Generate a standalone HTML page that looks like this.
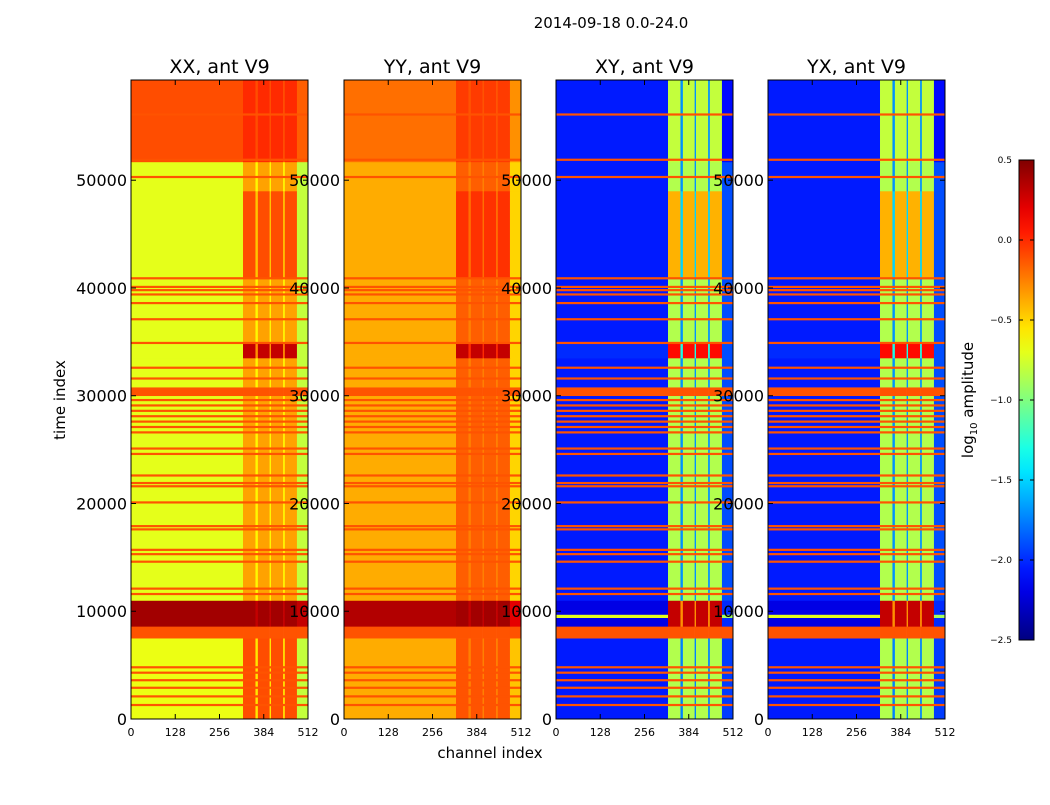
<!DOCTYPE html>
<html><head><meta charset="utf-8"><style>
body{margin:0;background:#fff;font-family:"Liberation Sans",sans-serif}
svg text{font-family:"DejaVu Sans","Liberation Sans",sans-serif}
</style></head><body>
<svg id="chart" width="1050" height="800" xmlns="http://www.w3.org/2000/svg">
<text x="611" y="28" font-size="15" text-anchor="middle">2014-09-18 0.0-24.0</text>
<text x="490" y="758" font-size="15" text-anchor="middle">channel index</text>
<text transform="translate(65,400) rotate(-90)" font-size="15" text-anchor="middle">time index</text>
<defs><linearGradient id="jetg" x1="0" y1="1" x2="0" y2="0"></linearGradient></defs>
<g id="panels"></g>
<g id="cbar"></g>
</svg>
<script>
// ---- data ----
const panelNames = ["XX, ant V9","YY, ant V9","XY, ant V9","YX, ant V9"];
const channelSegStarts = [0,324,360,367,401,405,440,445,480];
const channelSegEnds   = [324,360,367,401,405,440,445,480,512];
const channelSegKinds  = ["L","B","G","B","G","B","G","B","R"];
const timeBandStarts = [0,7500,8600,9400,9700,11000,30000,30800,33500,35000,41000,49000,51700];
const timeBandEnds   = [7500,8600,9400,9700,11000,30000,30800,33500,35000,41000,49000,51700,59300];
const timeBandKinds  = ["low","flag","hi","hiline","hi","norm","flag","norm","hot","norm","warm","norm","top"];
const flagTimes = [1200,2000,2800,3500,4200,4700,11500,12000,14500,15200,15600,17500,17800,20000,21500,21800,22500,24500,25000,26500,27000,27500,28000,28500,29000,29500,31500,32500,34800,37000,38500,39300,39700,40000,40800,50200,51800,56000];
const flagValue = -0.12;
// log10 amplitude per panel: [band] -> {L,B,G,R}
const levelsXX = {low:{L:-0.68,B:-0.1,G:-0.55,R:-0.8},hi:{L:0.4,B:0.4,G:0.3,R:0.3},hiline:{L:0.4,B:0.4,G:0.3,R:0.3},norm:{L:-0.7,B:-0.35,G:-0.6,R:-0.8},hot:{L:-0.7,B:0.3,G:-0.3,R:-0.8},warm:{L:-0.7,B:-0.1,G:-0.45,R:-0.8},top:{L:-0.1,B:0.0,G:-0.1,R:-0.15}};
const levelsYY = {low:{L:-0.38,B:-0.12,G:-0.25,R:-0.45},hi:{L:0.35,B:0.4,G:0.3,R:0.2},hiline:{L:0.35,B:0.4,G:0.3,R:0.2},norm:{L:-0.38,B:-0.15,G:-0.25,R:-0.5},hot:{L:-0.38,B:0.3,G:0.0,R:-0.5},warm:{L:-0.38,B:-0.02,G:-0.2,R:-0.5},top:{L:-0.2,B:-0.05,G:-0.12,R:-0.3}};
const levelsXY = {low:{L:-2.05,B:-0.85,G:-1.75,R:-1.95},hi:{L:-2.2,B:0.3,G:-0.3,R:-2.0},hiline:{L:-0.7,B:0.3,G:-0.3,R:-0.9},norm:{L:-2.05,B:-0.85,G:-1.7,R:-1.9},hot:{L:-2.0,B:0.1,G:-1.3,R:-1.9},warm:{L:-2.05,B:-0.4,G:-1.5,R:-1.9},top:{L:-2.05,B:-0.8,G:-1.7,R:-2.1}};
const panelLevels = [levelsXX,levelsYY,levelsXY,levelsXY];
const xTickLabels = [0,128,256,384,512];
const yTickLabels = [0,10000,20000,30000,40000,50000];
const cbarTicks = [0.5,0.0,-0.5,-1.0,-1.5,-2.0,-2.5];
// ---- layout ----
const panelLeft=[131,344,556,768], PW=177, PT=80, PB=719;
const TMAX=59300, VMIN=-2.5, VMAX=0.5;
const NS="http://www.w3.org/2000/svg";
function jet(v){let x=(v-VMIN)/(VMAX-VMIN);x=Math.max(0,Math.min(1,x));
 const c=t=>Math.round(255*Math.max(0,Math.min(1,1.5-Math.abs(t))));
 return `rgb(${c(4*x-3)},${c(4*x-2)},${c(4*x-1)})`;}
function el(tag,attrs,parent){const e=document.createElementNS(NS,tag);for(const k in attrs)e.setAttribute(k,attrs[k]);parent.appendChild(e);return e;}
const yScale=t=>PB-t*(PB-PT)/TMAX;
const root=document.getElementById('panels');
panelNames.forEach((name,p)=>{
 const x0=panelLeft[p], xs=c=>x0+c*PW/512;
 const g=el('g',{},root);
 
 
 const lv=panelLevels[p];
 timeBandStarts.forEach((t0,i)=>{
  const t1=timeBandEnds[i],kind=timeBandKinds[i];
  channelSegStarts.forEach((c0,j)=>{
   const v=kind==='flag'?flagValue:lv[kind][channelSegKinds[j]];
   const r=el('rect',{x:xs(c0),y:yScale(t1),width:xs(channelSegEnds[j])-xs(c0)+0.3,height:yScale(t0)-yScale(t1)+0.3,fill:jet(v)},g);
   
   
  });
 });
 flagTimes.forEach(t=>{
  const r=el('rect',{x:x0,y:yScale(t+200),width:PW,height:Math.max(2.2,yScale(t)-yScale(t+200)),fill:jet(flagValue)},g);
  
  
 });
 el('rect',{x:x0,y:PT,width:PW,height:PB-PT,fill:'none',stroke:'#000','stroke-width':1},g);
 const tt=el('text',{x:x0+PW/2,y:73,'font-size':19,'text-anchor':'middle'},g);tt.textContent=name;
 
 
 xTickLabels.forEach(c=>{
  el('line',{x1:xs(c),x2:xs(c),y1:PB,y2:PB-5,stroke:'#000'},g);
  el('line',{x1:xs(c),x2:xs(c),y1:PT,y2:PT+5,stroke:'#000'},g);
  const t=el('text',{x:xs(c),y:736,'font-size':11,'text-anchor':'middle'},g);t.textContent=c;
  
  
 });
 yTickLabels.forEach(v=>{
  const y=yScale(v);
  el('line',{x1:x0,x2:x0+5,y1:y,y2:y,stroke:'#000'},g);
  el('line',{x1:x0+PW,x2:x0+PW-5,y1:y,y2:y,stroke:'#000'},g);
  const t=el('text',{x:x0-4,y:y+6,'font-size':16,'text-anchor':'end'},g);t.textContent=v;
  
  
 });
});
// colorbar
const grad=document.getElementById('jetg');
for(let i=0;i<=20;i++){el('stop',{offset:(i/20),'stop-color':jet(VMIN+i/20*(VMAX-VMIN))},grad);}
const cb=document.getElementById('cbar');


const CT=160,CB=640,CX=1019,CW=15;
el('rect',{x:CX,y:CT,width:CW,height:CB-CT,fill:'url(#jetg)',stroke:'#000'},cb);
cbarTicks.forEach(v=>{
 const y=CB-(v-VMIN)/(VMAX-VMIN)*(CB-CT);
 el('line',{x1:CX,x2:CX+4,y1:y,y2:y,stroke:'#000'},cb);
 el('line',{x1:CX+CW,x2:CX+CW-4,y1:y,y2:y,stroke:'#000'},cb);
 const t=el('text',{x:1012,y:y+3,'font-size':9,'text-anchor':'end'},cb);t.textContent=v.toFixed(1).replace('-','\u2212');
 
 
});
const cl=el('text',{transform:'translate(973,400) rotate(-90)','font-size':15,'text-anchor':'middle'},cb);
cl.innerHTML='log<tspan font-size="10" dy="4">10</tspan><tspan dy="-4"> amplitude</tspan>';


</script>
</body></html>
